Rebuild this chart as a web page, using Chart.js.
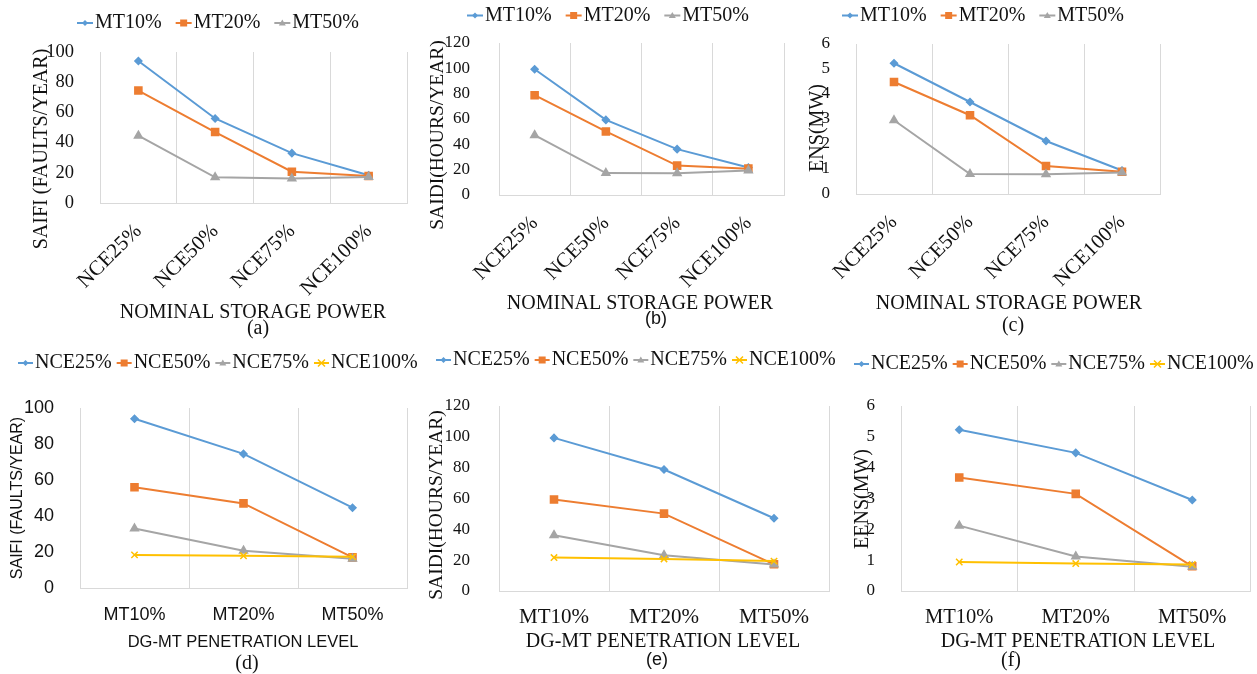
<!DOCTYPE html>
<html>
<head>
<meta charset="utf-8">
<script src="https://cdn.jsdelivr.net/npm/chart.js@4.4.1/dist/chart.umd.min.js"></script>
<style>
  body { margin: 0; background: #fff; }
  #wrap { position: relative; width: 1257px; height: 674px; }
  #wrap canvas { position: absolute; left: 0; top: 0; }
</style>
</head>
<body>
<div id="wrap">
  <canvas id="chartA" width="1257" height="674"></canvas>
  <canvas id="chartB" width="1257" height="674"></canvas>
  <canvas id="chartC" width="1257" height="674"></canvas>
  <canvas id="chartD" width="1257" height="674"></canvas>
  <canvas id="chartE" width="1257" height="674"></canvas>
  <canvas id="chartF" width="1257" height="674"></canvas>
</div>
<script>
const nceLabels = ['NCE25%', 'NCE50%', 'NCE75%', 'NCE100%'];
const mtLabels = ['MT10%', 'MT20%', 'MT50%'];

// values per MT level, one entry per NCE level
const saifiMT10 = [94, 56, 33, 18.4];
const saifiMT20 = [74.5, 47, 20.7, 17.9];
const saifiMT50 = [44.6, 17, 16.2, 17.3];

const saidiMT10 = [99.3, 59.3, 36.2, 21.7];
const saidiMT20 = [78.8, 50.2, 23.2, 20.8];
const saidiMT50 = [47.2, 17.3, 17.2, 19.4];

const eensMT10 = [5.23, 3.68, 2.12, 0.94];
const eensMT20 = [4.48, 3.15, 1.12, 0.89];
const eensMT50 = [2.95, 0.8, 0.79, 0.86];

const BLUE = '#5B9BD5', ORANGE = '#ED7D31', GRAY = '#A5A5A5', YELLOW = '#FFC000';
const SERIF = '"Liberation Serif", "Times New Roman", serif';
const SANS = '"Liberation Sans", Arial, sans-serif';

const marks = [
  { color: BLUE, style: 'rectRot', radius: 3.5, small: 3 },
  { color: ORANGE, style: 'rect', radius: 5, small: 3.5 },
  { color: GRAY, style: 'triangle', radius: 4.5, small: 3.5 },
  { color: YELLOW, style: 'crossRot', radius: 4.5, small: 3.5 }
];

// NCE series for the bottom row, taken from the MT series above
function byNce(a, b, c) {
  return nceLabels.map((n, i) => [a[i], b[i], c[i]]);
}

function drawMarker(ctx, style, x, y, r, color) {
  ctx.fillStyle = color;
  ctx.strokeStyle = color;
  ctx.lineWidth = 1.5;
  ctx.beginPath();
  if (style === 'rectRot') {
    ctx.moveTo(x, y - r); ctx.lineTo(x + r, y); ctx.lineTo(x, y + r); ctx.lineTo(x - r, y);
    ctx.closePath(); ctx.fill();
  } else if (style === 'rect') {
    ctx.rect(x - r, y - r, 2 * r, 2 * r); ctx.fill();
  } else if (style === 'triangle') {
    ctx.moveTo(x, y - r); ctx.lineTo(x + r, y + r * 0.7); ctx.lineTo(x - r, y + r * 0.7);
    ctx.closePath(); ctx.fill();
  } else {
    ctx.moveTo(x - r, y - r); ctx.lineTo(x + r, y + r);
    ctx.moveTo(x + r, y - r); ctx.lineTo(x - r, y + r);
    ctx.stroke();
  }
}

function makePanel(id, p) {
  const datasets = p.series.map((data, i) => ({
    label: p.names[i],
    data: data,
    borderColor: marks[i].color,
    backgroundColor: marks[i].color,
    pointBorderColor: marks[i].color,
    pointBackgroundColor: marks[i].color,
    borderWidth: 2,
    tension: 0,
    pointStyle: marks[i].style,
    pointRadius: marks[i].radius,
    pointBorderWidth: 1.5,
    order: 10 - i
  }));

  const lg = p.legend;
  const legendPlugin = {
    id: 'excelLegend',
    afterDraw(chart) {
      const ctx = chart.ctx;
      ctx.save();
      ctx.font = lg.font;
      ctx.textBaseline = 'middle';
      ctx.textAlign = 'left';
      let x = lg.x;
      datasets.forEach((ds, i) => {
        ctx.strokeStyle = ds.borderColor;
        ctx.lineWidth = 2;
        ctx.beginPath();
        ctx.moveTo(x, lg.y);
        ctx.lineTo(x + lg.line, lg.y);
        ctx.stroke();
        drawMarker(ctx, ds.pointStyle, x + lg.line / 2, lg.y, marks[i].small, ds.borderColor);
        x += lg.line + lg.gap;
        ctx.fillStyle = '#111';
        ctx.font = lg.font;
        ctx.fillText(ds.label, x, lg.y);
        x += ctx.measureText(ds.label).width + lg.itemGap;
      });
      ctx.restore();
    }
  };

  const textPlugin = {
    id: 'panelText',
    afterDraw(chart) {
      const ctx = chart.ctx;
      p.texts.forEach(t => {
        ctx.save();
        ctx.translate(t.x, t.y);
        if (t.rot) ctx.rotate(t.rot * Math.PI / 180);
        ctx.font = t.font;
        ctx.fillStyle = '#111';
        ctx.textAlign = 'center';
        ctx.textBaseline = 'middle';
        ctx.fillText(t.text, 0, 0);
        ctx.restore();
      });
    }
  };

  const a = p.area;
  const yW = 75;
  const xH = p.rot ? 100 : 45;
  new Chart(document.getElementById(id), {
    type: 'line',
    data: { labels: p.labels, datasets: datasets },
    options: {
      responsive: false,
      animation: false,
      events: [],
      layout: {
        padding: { left: a.left - yW, top: a.top, right: 1257 - a.right, bottom: 674 - a.bottom - xH }
      },
      plugins: { legend: { display: false }, tooltip: { enabled: false } },
      scales: {
        x: {
          offset: true,
          grid: { offset: true, color: '#d9d9d9', lineWidth: 1, drawTicks: false },
          border: { color: '#d9d9d9' },
          ticks: {
            autoSkip: false,
            minRotation: p.rot,
            maxRotation: p.rot,
            padding: p.xPad,
            color: '#111',
            font: p.xFont
          },
          afterFit: s => { s.height = xH; }
        },
        y: {
          min: 0,
          max: p.yMax,
          ticks: { stepSize: p.yStep, autoSkip: false, padding: p.yPad, color: '#111', font: p.yFont },
          grid: { display: false },
          border: { display: false },
          afterFit: s => { s.width = yW; }
        }
      }
    },
    plugins: [legendPlugin, textPlugin]
  });
}

const serif20 = '20px ' + SERIF;
const topLegend = (x, y) => ({ x: x, y: y, line: 16, gap: 2, itemGap: 14, font: serif20 });
const botLegend = (x, y) => ({ x: x, y: y, line: 15, gap: 2, itemGap: 5, font: serif20 });
const rotX = { family: SERIF, size: 21 };

makePanel('chartA', {
  labels: nceLabels, names: mtLabels, series: [saifiMT10, saifiMT20, saifiMT50],
  area: { left: 100, right: 407, top: 52, bottom: 203 }, yMax: 100, yStep: 20,
  rot: 45, xPad: 16, xFont: rotX, yFont: { family: SERIF, size: 18.5 }, yPad: 18,
  legend: topLegend(77, 23),
  texts: [
    { text: 'SAIFI (FAULTS/YEAR)', x: 42, y: 149, rot: -90, font: serif20 },
    { text: 'NOMINAL STORAGE POWER', x: 253, y: 313, font: serif20 },
    { text: '(a)', x: 258, y: 329, font: serif20 }
  ]
});

makePanel('chartB', {
  labels: nceLabels, names: mtLabels, series: [saidiMT10, saidiMT20, saidiMT50],
  area: { left: 499, right: 784, top: 43, bottom: 195 }, yMax: 120, yStep: 20,
  rot: 45, xPad: 16, xFont: rotX, yFont: { family: SERIF, size: 17 }, yPad: 21,
  legend: topLegend(467, 15.5),
  texts: [
    { text: 'SAIDI(HOURS/YEAR)', x: 438, y: 135, rot: -90, font: '19.5px ' + SERIF },
    { text: 'NOMINAL STORAGE POWER', x: 640, y: 304, font: serif20 },
    { text: '(b)', x: 656, y: 319, font: '18px ' + SANS }
  ]
});

makePanel('chartC', {
  labels: nceLabels, names: mtLabels, series: [eensMT10, eensMT20, eensMT50],
  area: { left: 856, right: 1160, top: 44, bottom: 194 }, yMax: 6, yStep: 1,
  rot: 45, xPad: 16, xFont: rotX, yFont: { family: SERIF, size: 17 }, yPad: 18,
  legend: topLegend(842, 15.5),
  texts: [
    { text: 'ENS(MW)', x: 818, y: 128, rot: -90, font: serif20 },
    { text: 'NOMINAL STORAGE POWER', x: 1009, y: 304, font: serif20 },
    { text: '(c)', x: 1013, y: 326, font: serif20 }
  ]
});

makePanel('chartD', {
  labels: mtLabels, names: nceLabels, series: byNce(saifiMT10, saifiMT20, saifiMT50),
  area: { left: 80, right: 407, top: 408, bottom: 588 }, yMax: 100, yStep: 20,
  rot: 0, xPad: 16, xFont: { family: SANS, size: 18 }, yFont: { family: SANS, size: 18 }, yPad: 18,
  legend: botLegend(18, 363),
  texts: [
    { text: 'SAIFI (FAULTS/YEAR)', x: 18, y: 498, rot: -90, font: '16px ' + SANS },
    { text: 'DG-MT PENETRATION LEVEL', x: 243, y: 642, font: '16.5px ' + SANS },
    { text: '(d)', x: 247, y: 664, font: serif20 }
  ]
});

makePanel('chartE', {
  labels: mtLabels, names: nceLabels, series: byNce(saidiMT10, saidiMT20, saidiMT50),
  area: { left: 499, right: 829, top: 406, bottom: 591 }, yMax: 120, yStep: 20,
  rot: 0, xPad: 14, xFont: { family: SERIF, size: 21 }, yFont: { family: SERIF, size: 17 }, yPad: 21,
  legend: botLegend(436, 360),
  texts: [
    { text: 'SAIDI(HOURS/YEAR)', x: 437, y: 505, rot: -90, font: '19.5px ' + SERIF },
    { text: 'DG-MT PENETRATION LEVEL', x: 663, y: 642, font: serif20 },
    { text: '(e)', x: 657, y: 660, font: '18px ' + SANS }
  ]
});

makePanel('chartF', {
  labels: mtLabels, names: nceLabels, series: byNce(eensMT10, eensMT20, eensMT50),
  area: { left: 901, right: 1256, top: 406, bottom: 591 }, yMax: 6, yStep: 1,
  rot: 0, xPad: 14, xFont: { family: SERIF, size: 20.5 }, yFont: { family: SERIF, size: 17 }, yPad: 18,
  legend: botLegend(854, 364),
  texts: [
    { text: 'EENS(MW)', x: 863, y: 499, rot: -90, font: serif20 },
    { text: 'DG-MT PENETRATION LEVEL', x: 1078, y: 642, font: serif20 },
    { text: '(f)', x: 1011, y: 661, font: serif20 }
  ]
});
</script>
</body>
</html>
